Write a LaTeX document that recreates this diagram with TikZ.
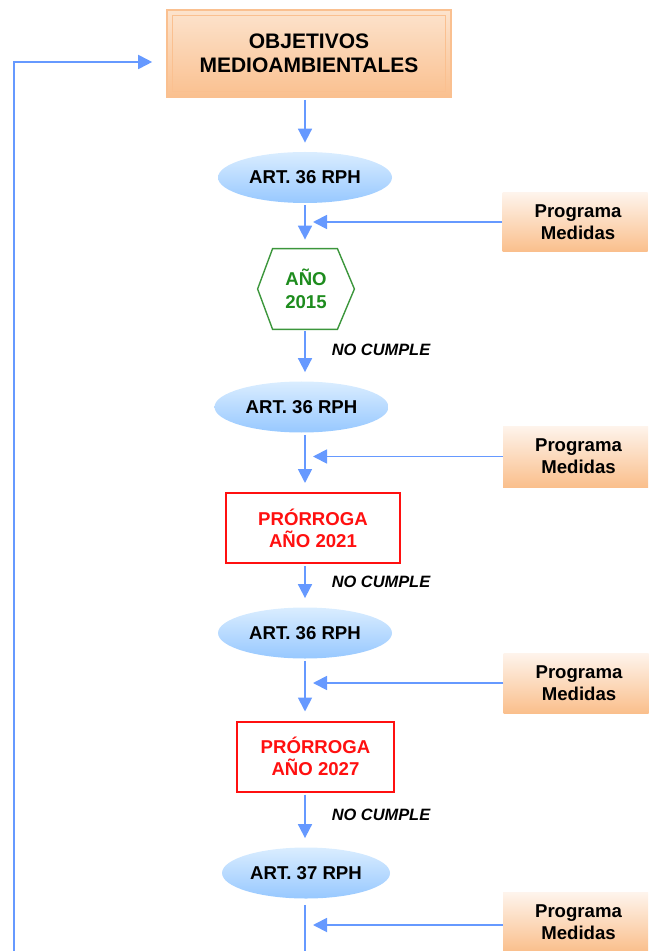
\documentclass[tikz,border=0pt]{standalone}
\usepackage{fontspec}
\setmainfont{Liberation Sans}
\usetikzlibrary{arrows.meta,calc,shapes.geometric}
\definecolor{arrowblue}{HTML}{6699FF}
\definecolor{objline}{HTML}{FAC090}
\definecolor{objtop}{HTML}{FCE3CD}
\definecolor{objbot}{HTML}{FAC08F}
\definecolor{progtop}{HTML}{FEF4EC}
\definecolor{progbot}{HTML}{FABF8C}
\definecolor{elltop}{HTML}{DAEDFF}
\definecolor{ellbot}{HTML}{97C8FF}
\definecolor{hexgreen}{HTML}{3C963C}
\definecolor{hextext}{HTML}{1E8C1E}
\definecolor{redline}{HTML}{FF1010}
\begin{document}
\begin{tikzpicture}[x=0.5pt,y=-0.5pt,
  objbox/.style={rectangle, draw=objline, line width=0.8pt, top color=objtop, bottom color=objbot,
    minimum width=142pt, minimum height=43.5pt, inner sep=0pt, align=center,
    font=\bfseries\fontsize{10.5}{12}\selectfont},
  ellip/.style={ellipse, draw=none, top color=elltop, bottom color=ellbot,
    minimum width=87pt, minimum height=25.5pt, inner sep=0pt,
    font=\bfseries\fontsize{9.3}{11}\selectfont},
  hexnode/.style={rectangle, draw=none, minimum width=48pt, minimum height=40pt, inner sep=0pt,
    align=center, text=hextext, font=\bfseries\fontsize{9.3}{11.5}\selectfont},
  hexline/.style={draw=hexgreen, line width=0.7pt},
  progbox/.style={rectangle, draw=none, top color=progtop, bottom color=progbot,
    minimum width=72.5pt, minimum height=29.5pt, inner sep=0pt, align=center,
    font=\bfseries\fontsize{9.3}{11}\selectfont},
  prorbox/.style={rectangle, draw=redline, line width=1pt, fill=white, text=redline,
    minimum height=35pt, inner sep=0pt, align=center,
    font=\bfseries\fontsize{9.3}{11}\selectfont},
  nolabel/.style={inner sep=0pt, font=\bfseries\itshape\fontsize{8.2}{10}\selectfont},
  arr/.style={draw=arrowblue, line width=0.9pt, -{Triangle[length=7pt,width=7pt]},
    shorten >=4.5pt, shorten <=1pt},
  parr/.style={draw=arrowblue, line width=0.9pt, -{Triangle[length=7pt,width=7pt]}},
  plainline/.style={draw=arrowblue, line width=0.9pt}
]
\useasboundingbox (0,0) rectangle (648,951);

% nodes
\node[objbox] (obj) at (309,53.5) {OBJETIVOS\\MEDIOAMBIENTALES};
\draw[draw=objline, line width=0.6pt] ($(obj.north west)+(6,6)$) rectangle ($(obj.south east)+(-6,-6)$);

\node[ellip] (e1) at (305,177.5) {ART. 36 RPH};
\node[hexnode] (hx) at (306,289) {AÑO\\2015};
\draw[hexline] (hx.west) -- ([xshift=7.5pt]hx.north west) -- ([xshift=-8.5pt]hx.north east)
  -- (hx.east) -- ([xshift=-8.5pt]hx.south east) -- ([xshift=7.5pt]hx.south west) -- cycle;
\node[ellip] (e2) at (301.5,407) {ART. 36 RPH};
\node[prorbox, minimum width=87pt] (r1) at (313,528) {PRÓRROGA\\AÑO 2021};
\node[ellip] (e3) at (305,633) {ART. 36 RPH};
\node[prorbox, minimum width=78.5pt] (r2) at (315.5,756.5) {PRÓRROGA\\AÑO 2027};
\node[ellip, minimum width=84pt] (e4) at (306,873) {ART. 37 RPH};

\node[progbox] (p1) at (575,222) {\hspace*{3pt}Programa\\\hspace*{3pt}Medidas};
\node[progbox, minimum height=30.5pt] (p2) at (575.5,456.5) {\hspace*{3pt}Programa\\\hspace*{3pt}Medidas};
\node[progbox, minimum height=30pt] (p3) at (576,683) {\hspace*{3pt}Programa\\\hspace*{3pt}Medidas};
\node[progbox] (p4) at (575.5,922) {\hspace*{3pt}Programa\\\hspace*{3pt}Medidas};

\node[nolabel] (n1) at (381,350) {NO CUMPLE};
\node[nolabel] (n2) at (381,582) {NO CUMPLE};
\node[nolabel] (n3) at (381,815) {NO CUMPLE};

% coordinates
\coordinate (ax) at (305,0);
\coordinate (jx) at (313,0);
\coordinate (j4) at (313,925);
\coordinate (bot) at (305,951);
\coordinate (lb) at (14,951);

% main chain
\draw[arr] (obj.south -| ax) -- (e1.north -| ax);
\draw[arr] (e1.south -| ax) -- (hx.north -| ax);
\draw[arr] (hx.south -| ax) -- (e2.north -| ax);
\draw[arr] (e2.south -| ax) -- (r1.north -| ax);
\draw[arr] (r1.south -| ax) -- (e3.north -| ax);
\draw[arr] (e3.south -| ax) -- (r2.north -| ax);
\draw[arr] (r2.south -| ax) -- (e4.north -| ax);
\draw[plainline, shorten <=3pt] (e4.south -| ax) -- (bot);

% programa arrows
\draw[parr] (p1.west) -- (p1.west -| jx);
\draw[parr] (p2.west) -- (p2.west -| jx);
\draw[parr] (p3.west) -- (p3.west -| jx);
\draw[parr] (p4.west |- j4) -- (j4);

% loop back
\draw[parr, shorten >=7pt] (lb) |- ([yshift=-4.25pt]obj.west);
\end{tikzpicture}
\end{document}
